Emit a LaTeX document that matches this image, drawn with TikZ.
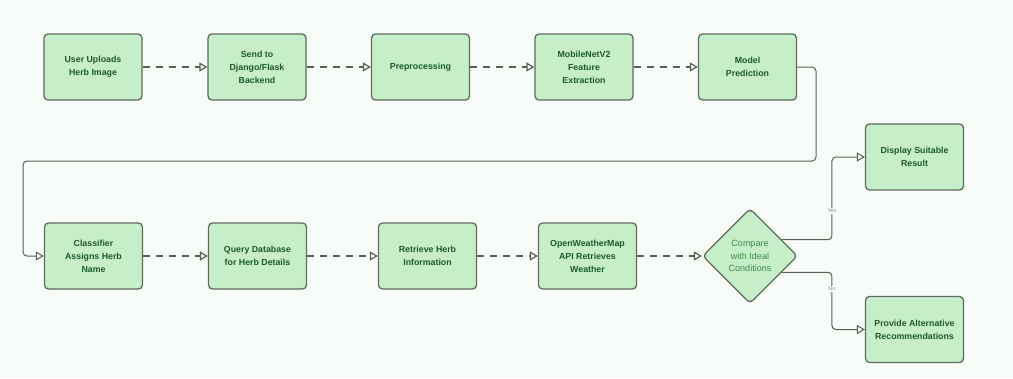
\documentclass[tikz,border=0pt]{standalone}
\usepackage{fontspec}
\setmainfont{Liberation Sans}
\usetikzlibrary{arrows.meta,shapes.geometric}
\definecolor{bg}{HTML}{F8FCF8}
\definecolor{boxfill}{HTML}{C6EFC9}
\definecolor{boxdraw}{HTML}{5E6B5E}
\definecolor{txt}{HTML}{1E5A28}
\definecolor{dtxt}{HTML}{3C8A48}
\definecolor{linec}{HTML}{555F55}
\definecolor{lblc}{HTML}{8A948A}
\begin{document}
\begin{tikzpicture}[x=1pt,y=-1pt,
  box/.style={draw=boxdraw, fill=boxfill, line width=1.3pt, rounded corners=4pt,
    minimum width=98pt, minimum height=66pt, inner sep=0pt, align=center,
    text=txt, font=\fontsize{8.8}{13}\selectfont\bfseries},
  decision/.style={shape=diamond, draw=boxdraw, fill=boxfill, line width=1.3pt,
    rounded corners=4pt, minimum width=95pt, minimum height=95pt, inner sep=0pt,
    align=center, text=dtxt, font=\fontsize{9}{12.5}\selectfont},
  flow/.style={draw=linec, line width=1.5pt, dash pattern=on 7pt off 6pt,
    -{Triangle[open,length=8pt,width=9pt,line width=1.2pt]}},
  link/.style={draw=linec, line width=1pt, rounded corners=4pt,
    -{Triangle[open,length=8pt,width=9pt,line width=1pt]}},
  lbl/.style={fill=bg, inner sep=1pt, text=lblc, font=\fontsize{5.5}{6}\selectfont}
]
\fill[bg] (0,0) rectangle (1013,378);
% row 1
\node[box] (n1) at (93,67) {User Uploads\\Herb Image};
\node[box] (n2) at (257,67) {Send to\\Django/Flask\\Backend};
\node[box] (n3) at (420.5,67) {Preprocessing};
\node[box] (n4) at (584,67) {MobileNetV2\\Feature\\Extraction};
\node[box] (n5) at (747.5,67) {Model\\Prediction};
% row 2
\node[box] (n6) at (93.5,256) {Classifier\\Assigns Herb\\Name};
\node[box] (n7) at (257.5,256) {Query Database\\for Herb Details};
\node[box] (n8) at (427.5,256) {Retrieve Herb\\Information};
\node[box] (n9) at (587.5,256) {OpenWeatherMap\\API Retrieves\\Weather};
\node[decision] (n10) at (750,256) {Compare\\with Ideal\\Conditions};
\node[box] (n11) at (914.5,157) {Display Suitable\\Result};
\node[box] (n12) at (914.5,329.5) {Provide Alternative\\Recommendations};
% coordinates
\coordinate (c1) at (816,67);
\coordinate (c2) at (816,161);
\coordinate (c3) at (23,161);
\coordinate (c4) at (23,256);
% connectors
\draw[flow] (n1) -- (n2);
\draw[flow] (n2) -- (n3);
\draw[flow] (n3) -- (n4);
\draw[flow] (n4) -- (n5);
\draw[link] (n5.east) -- (c1) -- (c2) -- (c3) -- (c4) -- (n6.west);
\draw[flow] (n6) -- (n7);
\draw[flow] (n7) -- (n8);
\draw[flow] (n8) -- (n9);
\draw[flow] (n9) -- (n10);
\draw[link] (n10.27) -- ++(50,0) |- (n11.west);
\draw[link] (n10.-27) -- ++(50,0) |- (n12.west);
\node[lbl] (yes) at (832,211) {Yes};
\node[lbl] (no) at (832,289) {No};
\end{tikzpicture}
\end{document}
